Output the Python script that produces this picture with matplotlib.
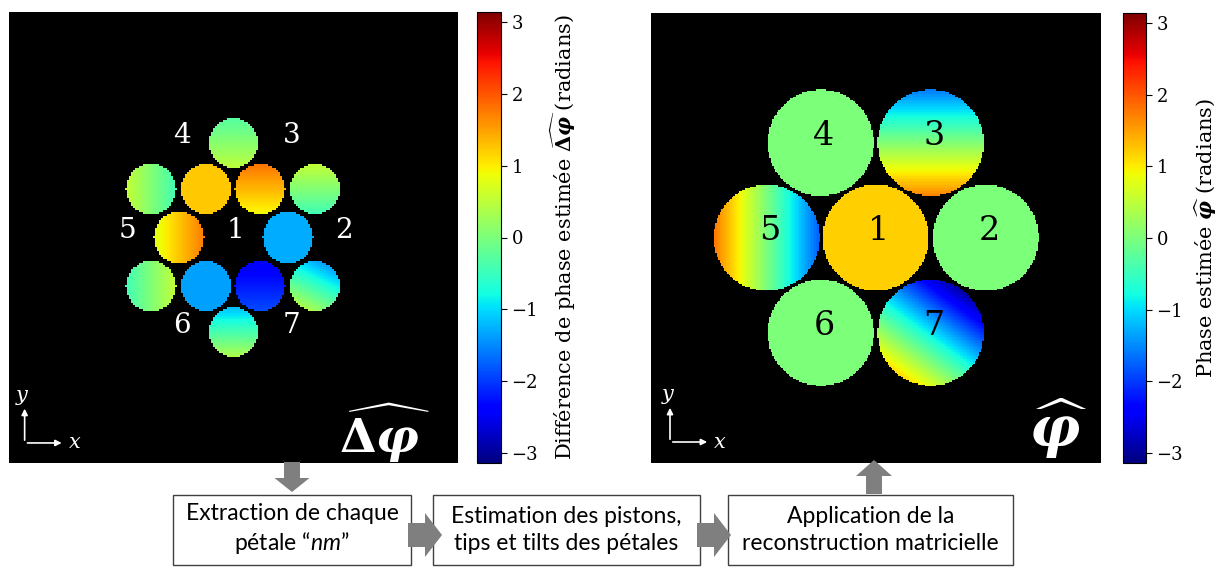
import numpy as np
import matplotlib
matplotlib.use('Agg')
import matplotlib.pyplot as plt
from matplotlib.patches import Rectangle, FancyArrow

plt.rcParams['font.family'] = 'DejaVu Serif'
plt.rcParams['mathtext.fontset'] = 'dejavuserif'
plt.rcParams['mathtext.rm'] = 'Lato'
plt.rcParams['mathtext.it'] = 'Lato:italic'
plt.rcParams['axes.unicode_minus'] = True

# --- data ---------------------------------------------------------------
# reconstruction (7 pétales), centres en pixels (y vers le bas), radians
rec_labels = ['1', '2', '3', '4', '5', '6', '7']
rec_cx = [0, 110, 55, -55, -109, -55, 55]
rec_cy = [0, 0, -95, -95, 0, 95, 95]
rec_piston = [1.2, 0.0, 0.05, 0.0, 0.0, 0.0, -0.9]
rec_tip = [0.0, 0.0, 0.0, 0.0, -1.8, 0.0, -1.2]
rec_tilt = [0.0, 0.0, -1.65, 0.0, 0.0, 0.0, -1.65]
rec_radius = 53

# différences estimées (12 sous-pupilles)
diff_cx = [0, -83, -28, 27, 82, -55, 55, -83, -28, 27, 82, 0]
diff_cy = [-94, -48, -48, -48, -48, 0, 0, 48, 48, 48, 48, 94]
diff_piston = [0.1, 0.05, 1.25, 1.35, 0.05, 1.25, -1.3, 0.05, -1.35, -2.2, -0.5, -0.4]
diff_tip = [0.0, -0.5, 0.0, 0.0, 0.0, 0.5, 0.0, 0.5, 0.0, 0.0, -0.4, 0.0]
diff_tilt = [-0.4, 0.0, 0.0, 0.45, 0.5, 0.0, 0.0, 0.0, 0.0, -0.3, -0.8, -0.8]
diff_radius = 25

# étiquettes des pétales sur l'image de gauche
diff_lab_x = [3, 112, 59, -51, -106, -51, 59]
diff_lab_y = [-7, -7, -102, -102, -7, 88, 88]

cbar_ticks = [-3, -2, -1, 0, 1, 2, 3]
steps = ['Extraction de chaque\npétale “$nm$”',
         'Estimation des pistons,\ntips et tilts des pétales',
         'Application de la\nreconstruction matricielle']

HALF = 225
DPHI = r'$\widehat{\mathbf{\Delta}\mathbfit{\varphi}}$'
PHI = r'$\widehat{\mathbfit{\varphi}}$'


def phase_map(cx, cy, piston, tip, tilt, radius, n):
    g = (np.arange(n) + 0.5) / n * 2 * HALF - HALF
    X, Y = np.meshgrid(g, g)
    phase = np.full(X.shape, np.nan)
    for x0, y0, p, a, b in zip(cx, cy, piston, tip, tilt):
        dx = (X - x0) / radius
        dy = (Y - y0) / radius
        inside = dx ** 2 + dy ** 2 <= 1
        phase[inside] = (p + a * dx - b * dy)[inside]
    return np.ma.masked_invalid(phase)


cmap = plt.get_cmap('jet').copy()
cmap.set_bad('black')

fig = plt.figure(figsize=(12.22, 5.67), dpi=100)
W, H = 1222, 567


def fig_axes(x0, y0, x1, y1):
    return fig.add_axes([x0 / W, 1 - y1 / H, (x1 - x0) / W, (y1 - y0) / H])


def panel(ax, data):
    im = ax.imshow(data, cmap=cmap, vmin=-np.pi, vmax=np.pi, aspect='auto',
                   interpolation='nearest', extent=(-HALF, HALF, HALF, -HALF))
    ax.set_axis_off()
    return im


def axes_marker(ax, ox, oy):
    kw = dict(arrowstyle='-|>', color='white', lw=1.2, mutation_scale=9)
    ax.annotate('', xy=(ox, oy - 37), xytext=(ox, oy), arrowprops=kw)
    ax.annotate('', xy=(ox + 40, oy), xytext=(ox, oy), arrowprops=kw)
    ax.text(ox - 2, oy - 45, '$y$', color='white', fontsize=15, ha='center', va='center')
    ax.text(ox + 50, oy, '$x$', color='white', fontsize=15, ha='center', va='center')


def colorbar(im, cax, label):
    cb = fig.colorbar(im, cax=cax, ticks=cbar_ticks)
    cb.ax.tick_params(labelsize=13, length=4)
    cb.outline.set_linewidth(0.8)
    cb.set_label(label, fontsize=15, labelpad=7)
    return cb


# panneau gauche
ax1 = fig_axes(8.7, 12, 457, 463)
im1 = panel(ax1, phase_map(diff_cx, diff_cy, diff_piston, diff_tip, diff_tilt,
                           diff_radius, 225))
for lab, x, y in zip(rec_labels, diff_lab_x, diff_lab_y):
    ax1.text(x, y, lab, color='white', fontsize=20, ha='center', va='center')
ax1.text(198, 215, DPHI, color='white', fontsize=34, ha='right', va='baseline')
axes_marker(ax1, -209, 205)
cax1 = fig_axes(477, 12, 501, 463)
colorbar(im1, cax1, 'Différence de phase estimée ' + DPHI + ' (radians)')

# panneau droit
ax2 = fig_axes(651, 13, 1101, 463)
im2 = panel(ax2, phase_map(rec_cx, rec_cy, rec_piston, rec_tip, rec_tilt,
                           rec_radius, 300))
for lab, x, y in zip(rec_labels, rec_cx, rec_cy):
    ax2.text(x + 3, y - 7, lab, color='black', fontsize=24, ha='center', va='center')
ax2.text(212, 209, PHI, color='white', fontsize=40, ha='right', va='baseline')
axes_marker(ax2, -206, 204)
cax2 = fig_axes(1123, 13, 1146, 463)
colorbar(im2, cax2, 'Phase estimée ' + PHI + ' (radians)')

# schéma du traitement
ov = fig.add_axes([0, 0, 1, 1])
ov.set_xlim(0, W)
ov.set_ylim(H, 0)
ov.set_axis_off()
ov.patch.set_alpha(0)

boxes = [(173, 411), (433, 700), (728, 1013)]
for (x0, x1), txt in zip(boxes, steps):
    ov.add_patch(Rectangle((x0, 495), x1 - x0, 70, facecolor='white',
                           edgecolor='#404040', lw=1.0))
    ov.text((x0 + x1) / 2, 530, txt, family='Lato', math_fontfamily='custom',
            fontsize=16.5, ha='center', va='center', linespacing=1.3)

grey = '#7f7f7f'
ov.add_patch(FancyArrow(292, 462, 0, 30, width=16, head_width=35, head_length=14,
                        length_includes_head=True, color=grey, lw=0))
ov.add_patch(FancyArrow(874, 494, 0, -34, width=16, head_width=36, head_length=16,
                        length_includes_head=True, color=grey, lw=0))
for x in (408, 697):
    ov.add_patch(FancyArrow(x, 535, 34, 0, width=24, head_width=44, head_length=17,
                            length_includes_head=True, color=grey, lw=0, zorder=5))

fig.savefig('out.png', dpi=100)
